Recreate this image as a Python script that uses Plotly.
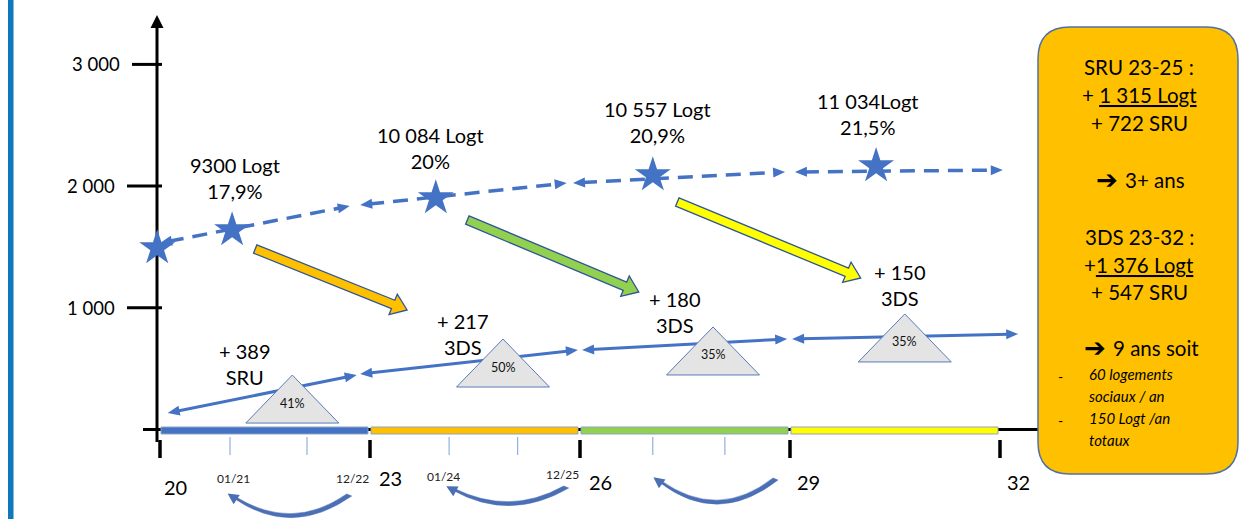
import math
import plotly.graph_objects as go

# ------------------------------------------------------------------ data
period_years = [20, 23, 26, 29, 32]
period_labels = ["20", "23", "26", "29", "32"]
period_colors = ["#4472C4", "#FFC000", "#92D050", "#FFFF00"]
minor_years = [21.0, 22.1, 24.13, 25.11, 27.04, 28.07]
date_labels = ["01/21", "12/22", "01/24", "12/25"]
date_years = [21.0, 22.92, 24.0, 25.92]

y_ticks = [1000, 2000, 3000]
y_tick_labels = ["1 000", "2 000", "3 000"]

# total housing (dashed line with stars)
star_years = [19.96, 21.03, 23.94, 27.04, 30.23]
star_values = [1491, 1639, 1902, 2091, 2165]
top_labels = ["9300 Logt<br>17,9%", "10 084 Logt<br>20%",
              "10 557 Logt<br>20,9%", "11 034Logt<br>21,5%"]
top_label_years = [21.07, 23.86, 27.1, 30.11]
top_label_values = [2067, 2313, 2527, 2593]
dash_start_x = [20.0, 22.86, 25.9, 29.07]
dash_start_y = [1532, 1845, 2025, 2116]
dash_end_x = [22.71, 25.81, 28.93, 32.04]
dash_end_y = [1836, 2025, 2116, 2132]

# social housing (solid line)
sru_start_x = [20.11, 22.86, 26.03, 29.03]
sru_start_y = [136, 456, 653, 744]
sru_end_x = [22.81, 25.97, 28.96, 32.26]
sru_end_y = [448, 653, 744, 785]
low_labels = ["+ 389<br>SRU", "+ 217<br>3DS", "+ 180<br>3DS", "+ 150<br>3DS"]
low_label_years = [21.21, 24.33, 27.36, 30.57]
low_label_values = [538, 785, 965, 1187]

# triangles with share of social housing
tri_years = [21.89, 24.9, 27.9, 30.64]
tri_base = [53, 349, 448, 555]
tri_labels = ["41%", "50%", "35%", "35%"]

# coloured block arrows (from total to additions)
blk_start_x = [21.36, 24.39, 27.39]
blk_start_y = [1483, 1721, 1869]
blk_end_x = [23.53, 26.84, 30.01]
blk_end_y = [982, 1130, 1245]
blk_colors = ["#FFC000", "#92D050", "#FFFF00"]

# curved arrows under the time axis (tail year -> head year)
arc_tail = [22.71, 25.81, 28.8]
arc_head = [21.06, 24.19, 27.14]

# info box
box_lines = ["SRU 23-25 :", "+ <u>1 315 Logt</u>", "+ 722 SRU",
             "3DS 23-32 :", "+<u>1 376 Logt</u>", "+ 547 SRU"]
box_conclusions = ["3+ ans", "9 ans soit"]
box_list = ["60 logements", "sociaux / an", "150 Logt /an", "totaux"]

# ------------------------------------------------------------------ geometry helpers
W, H = 1242, 519
X0, KX = 160.0, 70.0
Y0, KY = 429.5, 0.1217


def PX(yr):
    return X0 + (yr - 20) * KX


def PY(v):
    return Y0 - v * KY


def DX(px):
    return 20 + (px - X0) / KX


def DY(py):
    return (Y0 - py) / KY


def path_px(points, close=True):
    s = "M " + " L ".join(f"{DX(x):.5f},{DY(y):.5f}" for x, y in points)
    return s + (" Z" if close else "")


def head_pts(tip, frm, length, width):
    dx, dy = tip[0] - frm[0], tip[1] - frm[1]
    L = math.hypot(dx, dy)
    ux, uy = dx / L, dy / L
    nx, ny = -uy, ux
    bx, by = tip[0] - ux * length, tip[1] - uy * length
    return [tip, (bx + nx * width / 2, by + ny * width / 2),
            (bx - nx * width / 2, by - ny * width / 2)]


def shorten(p, q, d):
    dx, dy = q[0] - p[0], q[1] - p[1]
    L = math.hypot(dx, dy)
    return (p[0] + dx / L * d, p[1] + dy / L * d)


BLUE = "#4472C4"
FONT = "Lato"
TXT = "#000000"
shapes = []
annotations = []
fig = go.Figure()

# left decorative bar
shapes.append(dict(type="rect", xref="x", yref="y", x0=DX(8), x1=DX(13.5), y0=DY(0), y1=DY(H),
                   fillcolor="#0F78BF", line=dict(width=0), layer="below"))

# vertical axis with arrow
shapes.append(dict(type="line", x0=DX(157), x1=DX(157), y0=DY(442), y1=DY(26),
                   line=dict(color="black", width=3), layer="below"))
shapes.append(dict(type="path", path=path_px(head_pts((157, 15), (157, 40), 13, 13)),
                   fillcolor="black", line=dict(width=0), layer="below"))
# horizontal axis line
shapes.append(dict(type="line", x0=DX(143), x1=DX(1042), y0=0, y1=0,
                   line=dict(color="black", width=3), layer="below"))
# y ticks & labels
for v, lab in zip(y_ticks, y_tick_labels):
    x_left = 132 if v == 3000 else 127
    shapes.append(dict(type="line", x0=DX(x_left), x1=DX(162), y0=v, y1=v,
                       line=dict(color="black", width=3), layer="below"))
    annotations.append(dict(x=DX(x_left - 10), y=v, text=lab, showarrow=False, xanchor="right",
                            yanchor="middle", font=dict(family=FONT, size=18.5, color=TXT)))

# coloured period bars
for i, c in enumerate(period_colors):
    shapes.append(dict(type="rect", x0=DX(PX(period_years[i]) + 1), x1=DX(PX(period_years[i + 1]) - 2),
                       y0=DY(434), y1=DY(427), fillcolor=c,
                       line=dict(color="#8FA3BF", width=1), layer="below"))
# major ticks under axis
maj_dx = [15, 20, 20, 18, 18]
maj_py = [487, 478, 482, 482, 482]
for yr, lab, ddx, py in zip(period_years, period_labels, maj_dx, maj_py):
    shapes.append(dict(type="line", x0=yr, x1=yr, y0=DY(440), y1=DY(458),
                       line=dict(color="black", width=3.5), layer="below"))
    annotations.append(dict(x=DX(PX(yr) + ddx), y=DY(py), text=lab, showarrow=False,
                            xanchor="center", yanchor="middle",
                            font=dict(family=FONT, size=20, color=TXT)))
# minor ticks
for yr in minor_years:
    shapes.append(dict(type="line", x0=yr, x1=yr, y0=DY(437), y1=DY(455),
                       line=dict(color="#7F9FD8", width=1), layer="below"))
# date labels
date_py = [478, 478, 476, 474]
for yr, lab, py in zip(date_years, date_labels, date_py):
    if lab.startswith("12"):
        annotations.append(dict(x=DX(PX(yr) + 7), y=DY(py), text=lab, showarrow=False,
                                xanchor="right", yanchor="middle",
                                font=dict(family=FONT, size=12, color="#222")))
    else:
        annotations.append(dict(x=DX(PX(yr) + 3), y=DY(py), text=lab, showarrow=False,
                                xanchor="center", yanchor="middle",
                                font=dict(family=FONT, size=12, color="#222")))

# curved arrows
arc_py = [(496, 498, 537), (488, 490, 521), (480, 482, 526)]
for t, h, (ty, hy, cy) in zip(arc_tail, arc_head, arc_py):
    tx, hx = PX(t), PX(h)
    cx = (tx + hx) / 2
    outer = f"M {DX(tx+2):.5f},{DY(ty):.5f} Q {DX(cx):.5f},{DY(cy+1):.5f} {DX(hx):.5f},{DY(hy+0.5):.5f}"
    inner = f" L {DX(hx+1):.5f},{DY(hy-1.5):.5f} Q {DX(cx):.5f},{DY(cy-5):.5f} {DX(tx-3):.5f},{DY(ty-2):.5f} Z"
    shapes.append(dict(type="path", path=outer + inner, fillcolor="#4A6FB5",
                       line=dict(color="#4A6FB5", width=0.5)))
    ddx, ddy = hx - cx, hy - cy
    L = math.hypot(ddx, ddy)
    tip = (hx + ddx / L * 8, hy + ddy / L * 8)
    shapes.append(dict(type="path", path=path_px(head_pts(tip, (hx, hy), 11, 11)),
                       fillcolor="#4A6FB5", line=dict(width=0)))

# dashed total line segments
for x0, y0, x1, y1 in zip(dash_start_x, dash_start_y, dash_end_x, dash_end_y):
    p, q = (PX(x0), PY(y0)), (PX(x1), PY(y1))
    a, b = shorten(p, q, 9), shorten(q, p, 9)
    fig.add_trace(go.Scatter(x=[DX(a[0]), DX(b[0])], y=[DY(a[1]), DY(b[1])], mode="lines",
                             line=dict(color=BLUE, width=3.5, dash="15px,9px"),
                             hoverinfo="skip", showlegend=False))
    shapes.append(dict(type="path", path=path_px(head_pts(p, q, 12, 10)), fillcolor=BLUE, line=dict(width=0)))
    shapes.append(dict(type="path", path=path_px(head_pts(q, p, 12, 10)), fillcolor=BLUE, line=dict(width=0)))

fig.add_trace(go.Scatter(x=star_years, y=star_values, mode="markers",
                         marker=dict(symbol="star", size=27, color=BLUE, line=dict(width=0)),
                         hoverinfo="skip", showlegend=False))

# solid social-housing line segments
for x0, y0, x1, y1 in zip(sru_start_x, sru_start_y, sru_end_x, sru_end_y):
    p, q = (PX(x0), PY(y0)), (PX(x1), PY(y1))
    a, b = shorten(p, q, 9), shorten(q, p, 9)
    fig.add_trace(go.Scatter(x=[DX(a[0]), DX(b[0])], y=[DY(a[1]), DY(b[1])], mode="lines",
                             line=dict(color=BLUE, width=3),
                             hoverinfo="skip", showlegend=False))
    shapes.append(dict(type="path", path=path_px(head_pts(p, q, 12, 10)), fillcolor=BLUE, line=dict(width=0)))
    shapes.append(dict(type="path", path=path_px(head_pts(q, p, 12, 10)), fillcolor=BLUE, line=dict(width=0)))

# triangles
for yr, base, lab in zip(tri_years, tri_base, tri_labels):
    cx, by = PX(yr), PY(base)
    shapes.append(dict(type="path", path=path_px([(cx, by - 48), (cx + 46.5, by), (cx - 46.5, by)]),
                       fillcolor="#E4E4E4", line=dict(color="#5A7AB8", width=1)))
    annotations.append(dict(x=yr, y=DY(by - 20), text=lab, showarrow=False, xanchor="center",
                            yanchor="middle", font=dict(family=FONT, size=12.5, color="#111")))

# block arrows
for x0, y0, x1, y1, c in zip(blk_start_x, blk_start_y, blk_end_x, blk_end_y, blk_colors):
    s, e = (PX(x0), PY(y0)), (PX(x1), PY(y1))
    dx, dy = e[0] - s[0], e[1] - s[1]
    L = math.hypot(dx, dy)
    ux, uy = dx / L, dy / L
    nx, ny = -uy, ux
    hw, HW, hl = 4.5, 11, 15
    bx, by = e[0] - ux * hl, e[1] - uy * hl
    pts = [(s[0] + nx * hw, s[1] + ny * hw), (bx + nx * hw, by + ny * hw), (bx + nx * HW, by + ny * HW),
           e, (bx - nx * HW, by - ny * HW), (bx - nx * hw, by - ny * hw), (s[0] - nx * hw, s[1] - ny * hw)]
    shapes.append(dict(type="path", path=path_px(pts), fillcolor=c,
                       line=dict(color="#2F5597", width=1.3)))

# top & bottom labels
for yr, v, lab in zip(top_label_years, top_label_values, top_labels):
    annotations.append(dict(x=yr, y=v, text=lab, showarrow=False, xanchor="center", yanchor="middle",
                            font=dict(family=FONT, size=20, color=TXT)))
for yr, v, lab in zip(low_label_years, low_label_values, low_labels):
    annotations.append(dict(x=yr, y=v, text=lab, showarrow=False, xanchor="center", yanchor="middle",
                            font=dict(family=FONT, size=20, color=TXT)))

# info box (rounded rectangle)
bx0, bx1, by0, by1, r = 1038, 1238, 27, 474, 32
box = (f"M {DX(bx0 + r):.5f},{DY(by0):.5f} L {DX(bx1 - r):.5f},{DY(by0):.5f} "
       f"Q {DX(bx1):.5f},{DY(by0):.5f} {DX(bx1):.5f},{DY(by0 + r):.5f} "
       f"L {DX(bx1):.5f},{DY(by1 - r):.5f} Q {DX(bx1):.5f},{DY(by1):.5f} {DX(bx1 - r):.5f},{DY(by1):.5f} "
       f"L {DX(bx0 + r):.5f},{DY(by1):.5f} Q {DX(bx0):.5f},{DY(by1):.5f} {DX(bx0):.5f},{DY(by1 - r):.5f} "
       f"L {DX(bx0):.5f},{DY(by0 + r):.5f} Q {DX(bx0):.5f},{DY(by0):.5f} {DX(bx0 + r):.5f},{DY(by0):.5f} Z")
shapes.append(dict(type="path", path=box, fillcolor="#FFC000", line=dict(color="#4F71A6", width=1.5)))

line_py = [67, 95, 123, 237, 265, 292]
for lab, py in zip(box_lines, line_py):
    annotations.append(dict(x=DX(1139), y=DY(py), text=lab, showarrow=False, xanchor="center",
                            yanchor="middle", font=dict(family=FONT, size=20.5, color=TXT)))
# conclusion lines with heavy arrow glyph
concl_py = [180, 348]
concl_arrow_px = [1107, 1095]
for lab, py, ax in zip(box_conclusions, concl_py, concl_arrow_px):
    annotations.append(dict(x=DX(ax), y=DY(py), text="➔", showarrow=False, xanchor="center",
                            yanchor="middle", font=dict(family="DejaVu Sans", size=26, color=TXT)))
    annotations.append(dict(x=DX(ax + 16), y=DY(py), text=lab, showarrow=False, xanchor="left",
                            yanchor="middle", font=dict(family=FONT, size=20.5, color=TXT)))
list_py = [374, 396, 418, 440]
for lab, py in zip(box_list, list_py):
    annotations.append(dict(x=DX(1087), y=DY(py), text=f"<i>{lab}</i>", showarrow=False, xanchor="left",
                            yanchor="middle", font=dict(family=FONT, size=15, color=TXT)))
for py in [376, 420]:
    annotations.append(dict(x=DX(1060), y=DY(py), text="-", showarrow=False, xanchor="center",
                            yanchor="middle", font=dict(family=FONT, size=14, color=TXT)))

fig.update_layout(
    width=W, height=H, margin=dict(l=0, r=0, t=0, b=0),
    paper_bgcolor="white", plot_bgcolor="white",
    xaxis=dict(range=[DX(0), DX(W)], visible=False, fixedrange=True),
    yaxis=dict(range=[DY(H), DY(0)], visible=False, fixedrange=True),
    shapes=shapes, annotations=annotations, showlegend=False,
)
fig.write_html("out.html")
